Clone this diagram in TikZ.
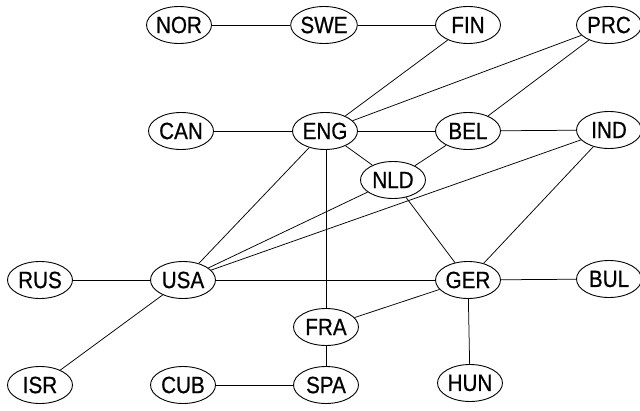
\documentclass[tikz,border=0pt]{standalone}
\usepackage{fontspec}
\setmainfont{Liberation Sans}
\newfontfamily\lab[FakeStretch=0.88,FakeBold=0.6]{Liberation Sans}
\usetikzlibrary{shapes.geometric}
\begin{document}
\begin{tikzpicture}[x=1pt,y=-1pt,
  country/.style={ellipse,draw,line width=0.9pt,minimum width=65pt,minimum height=37pt,inner sep=0pt,font=\lab\fontsize{23.5}{23.5}\selectfont},
  link/.style={line width=0.75pt}]
\useasboundingbox (0,0) rectangle (640,410);
\node[country] (NOR) at (179,25) {NOR};
\node[country] (SWE) at (324,25) {SWE};
\node[country] (FIN) at (468,25) {FIN};
\node[country] (PRC) at (609,25) {PRC};
\node[country] (CAN) at (181,131) {CAN};
\node[country] (ENG) at (325,131) {ENG};
\node[country] (BEL) at (468,131) {BEL};
\node[country] (IND) at (609,130) {IND};
\node[country] (NLD) at (393,180) {NLD};
\node[country] (RUS) at (40,280) {RUS};
\node[country] (USA) at (183,280) {USA};
\node[country] (GER) at (468,280) {GER};
\node[country] (BUL) at (609,279) {BUL};
\node[country] (FRA) at (326,327) {FRA};
\node[country] (ISR) at (40,385) {ISR};
\node[country] (CUB) at (183,385) {CUB};
\node[country] (SPA) at (326,385) {SPA};
\node[country] (HUN) at (470,383) {HUN};
\draw[link] (NOR) -- (SWE);
\draw[link] (SWE) -- (FIN);
\draw[link] (FIN) -- (ENG);
\draw[link] (PRC) -- (ENG);
\draw[link] (PRC) -- (BEL);
\draw[link] (CAN) -- (ENG);
\draw[link] (ENG) -- (BEL);
\draw[link] (BEL) -- (IND);
\draw[link] (ENG) -- (NLD);
\draw[link] (BEL) -- (NLD);
\draw[link] (ENG) -- (USA);
\draw[link] (ENG.south -| FRA.north) -- (FRA);
\draw[link] (NLD) -- (USA);
\draw[link] (IND) -- (USA);
\draw[link] (NLD) -- (GER);
\draw[link] (IND) -- (GER);
\draw[link] (RUS) -- (USA);
\draw[link] (USA) -- (GER);
\draw[link] (GER) -- (BUL);
\draw[link] (GER) -- (FRA);
\draw[link] (GER) -- (HUN);
\draw[link] (FRA) -- (SPA);
\draw[link] (CUB) -- (SPA);
\draw[link] (USA) -- (ISR);
\end{tikzpicture}
\end{document}
